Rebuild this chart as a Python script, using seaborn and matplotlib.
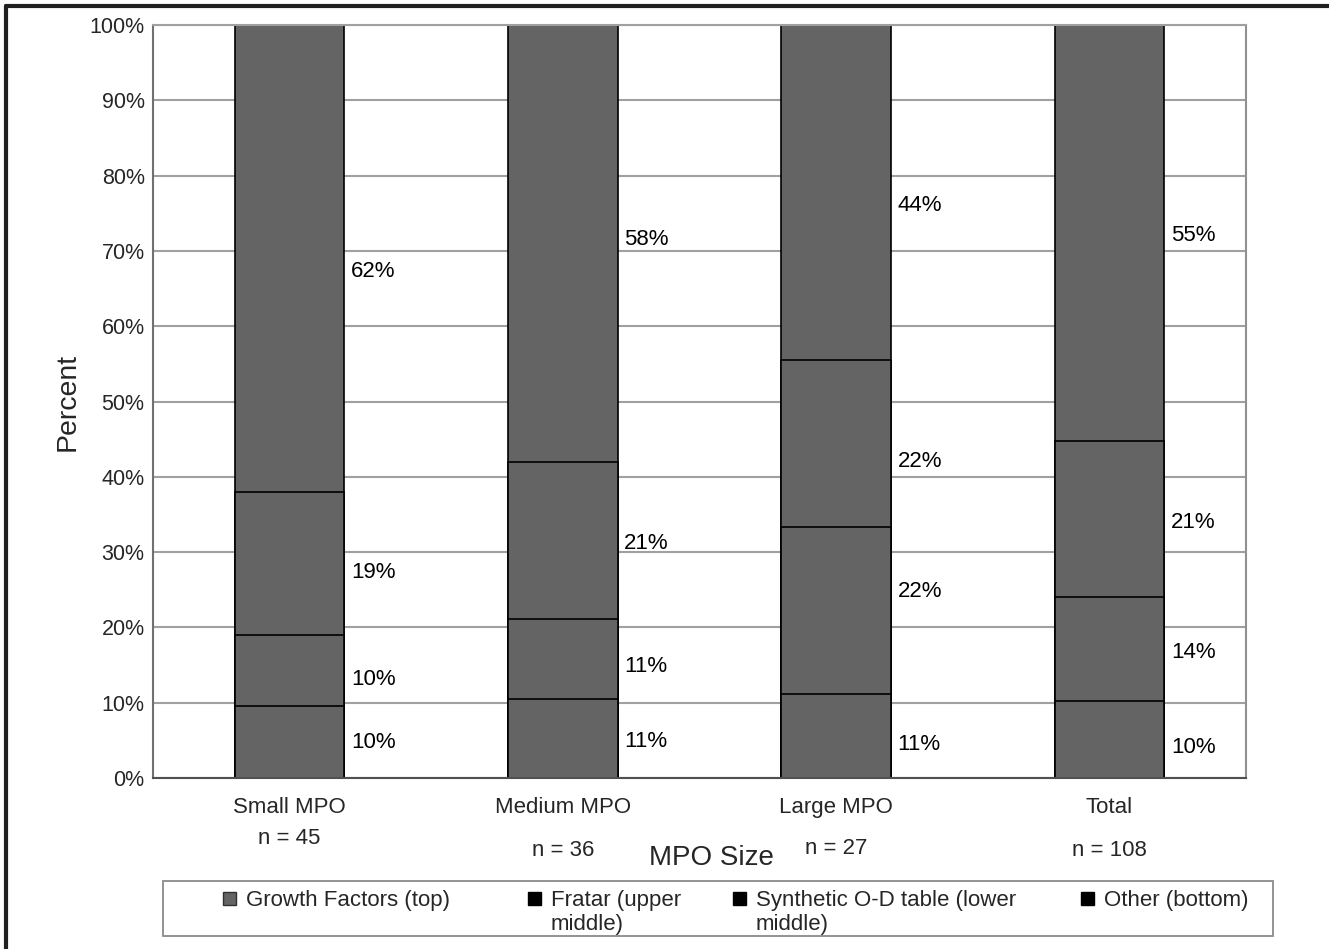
import numpy as np
import pandas as pd
import matplotlib
matplotlib.use("Agg")
import matplotlib.pyplot as plt
import seaborn as sns
from matplotlib.patches import Rectangle
from matplotlib.lines import Line2D
from matplotlib.transforms import blended_transform_factory

# ---------------- data ----------------
categories = ["Small MPO", "Medium MPO", "Large MPO", "Total"]
n_labels = ["n = 45", "n = 36", "n = 27", "n = 108"]
# segment values, bottom -> top (percent)
other = [9.6, 10.5, 11.1, 10.2]
synthetic = [9.4, 10.6, 22.2, 13.9]
fratar = [19.0, 20.9, 22.2, 20.6]
growth = [62.0, 58.0, 44.5, 55.3]
# printed data labels
other_lbl = ["10%", "11%", "11%", "10%"]
synthetic_lbl = ["10%", "11%", "22%", "14%"]
fratar_lbl = ["19%", "21%", "22%", "21%"]
growth_lbl = ["62%", "58%", "44%", "55%"]
series_names = ["Growth Factors (top)", "Fratar (upper\nmiddle)",
                "Synthetic O-D table (lower\nmiddle)", "Other (bottom)"]

# ---------------- layout (pixels) ----------------
W, H = 1329, 949
# vertical nudge of each data label from its segment centre (px, + = down)
other_dy = [1, 3, 8, 8]
synthetic_dy = [9, 7, -19, 4]
fratar_dy = [9, 3, 18, 4]
growth_dy = [13, -4, 13, 2]
n_label_y = [838, 850, 848, 850]
legend_marker_x = [223, 528, 733, 1081]

# ---------------- style ----------------
sns.set_style("white")
plt.rcParams["font.family"] = ["Liberation Sans", "DejaVu Sans"]

fig = plt.figure(figsize=(W / 100, H / 100), dpi=100)
ax_top, ax_bot = 25, 778
ax = fig.add_axes([153 / W, 1 - ax_bot / H, (1246 - 153) / W, (ax_bot - ax_top) / H])
px_to_pct = 100.0 / (ax_bot - ax_top)

bar_color = "#646464"
layers_bottom_up = [other, synthetic, fratar, growth]
labels_bottom_up = [other_lbl, synthetic_lbl, fratar_lbl, growth_lbl]
dy_bottom_up = [other_dy, synthetic_dy, fratar_dy, growth_dy]
cum = np.cumsum(np.array(layers_bottom_up), axis=0)

# draw from top layer (cumulative) down so lower layers overlay
for i in range(len(layers_bottom_up) - 1, -1, -1):
    df = pd.DataFrame({"cat": categories, "val": cum[i]})
    sns.barplot(data=df, x="cat", y="val", order=categories, color=bar_color,
                width=0.4, edgecolor="black", linewidth=1.2, saturation=1,
                ax=ax, zorder=2)

# data labels near segment centres, to the right of each bar
for i, (vals, lbls, dys) in enumerate(zip(layers_bottom_up, labels_bottom_up, dy_bottom_up)):
    bottoms = cum[i] - np.array(vals)
    for j, (v, b, t, d) in enumerate(zip(vals, bottoms, lbls, dys)):
        ax.text(j + 0.2 + 0.025, b + v / 2 - d * px_to_pct, t, ha="left",
                va="center", fontsize=16, color="black", zorder=3)

ax.set_ylim(0, 100)
ax.set_xlim(-0.5, len(categories) - 0.5)
ax.set_yticks(np.arange(0, 101, 10))
ax.set_yticklabels([f"{v}%" for v in range(0, 101, 10)], fontsize=15.5)
ax.yaxis.grid(True, color="#a0a0a0", lw=1.5, zorder=0)
ax.set_axisbelow(True)

# category ticks between categories
ax.set_xticks(np.arange(len(categories)))
ax.set_xticklabels(categories, fontsize=16)
ax.tick_params(axis="x", length=0, pad=14)
ax.set_xticks(np.arange(-0.5, len(categories), 1.0), minor=True)
ax.tick_params(axis="x", which="minor", length=5, color="#808080", width=1)
ax.tick_params(axis="y", length=4.5, color="#808080", width=1, pad=1.5)

ax.spines["left"].set_color("#707070")
ax.spines["left"].set_linewidth(1.5)
ax.spines["bottom"].set_color("#505050")
ax.spines["bottom"].set_linewidth(1.5)
ax.spines["right"].set_color("#909090")
ax.spines["right"].set_linewidth(1.5)
ax.spines["top"].set_color("#a0a0a0")
ax.spines["top"].set_linewidth(1.5)

ax.set_ylabel("Percent", fontsize=20.5)
ax.yaxis.set_label_coords((81 - 153) / (1246 - 153), 0.5)
ax.set_xlabel("MPO Size", fontsize=20)
ax.xaxis.set_label_coords((711 - 153) / (1246 - 153), -(845 - 778) / (778 - 25))

# n labels under categories
tr = blended_transform_factory(ax.transData, fig.transFigure)
for j, (lbl, yp) in enumerate(zip(n_labels, n_label_y)):
    ax.text(j, 1 - yp / H, lbl, ha="center", va="center", fontsize=16,
            transform=tr)

# legend box (drawn like the original, markers aligned with first line)
fig.add_artist(Rectangle((163 / W, 1 - 936 / H), (1273 - 163) / W, (936 - 881) / H,
                         transform=fig.transFigure, facecolor="white",
                         edgecolor="#8a8a8a", lw=1.3))
marker_colors = [bar_color, "black", "black", "black"]
marker_edges = ["#303030", "black", "black", "black"]
for name, mx, fc, ec in zip(series_names, legend_marker_x, marker_colors, marker_edges):
    fig.add_artist(Rectangle((mx / W, 1 - 905 / H), 13 / W, 13 / H,
                             transform=fig.transFigure, facecolor=fc,
                             edgecolor=ec, lw=1))
    for k, line in enumerate(name.split("\n")):
        fig.text((mx + 23) / W, 1 - (906 + 24 * k) / H, line, ha="left",
                 va="baseline", fontsize=16)

# figure border (top + left)
fig.add_artist(Line2D([6 / W, 1], [1 - 6 / H, 1 - 6 / H], color="#202020", lw=3,
                      transform=fig.transFigure))
fig.add_artist(Line2D([6 / W, 6 / W], [0, 1 - 6 / H], color="#202020", lw=3,
                      transform=fig.transFigure))

fig.savefig("out.png", dpi=100)
